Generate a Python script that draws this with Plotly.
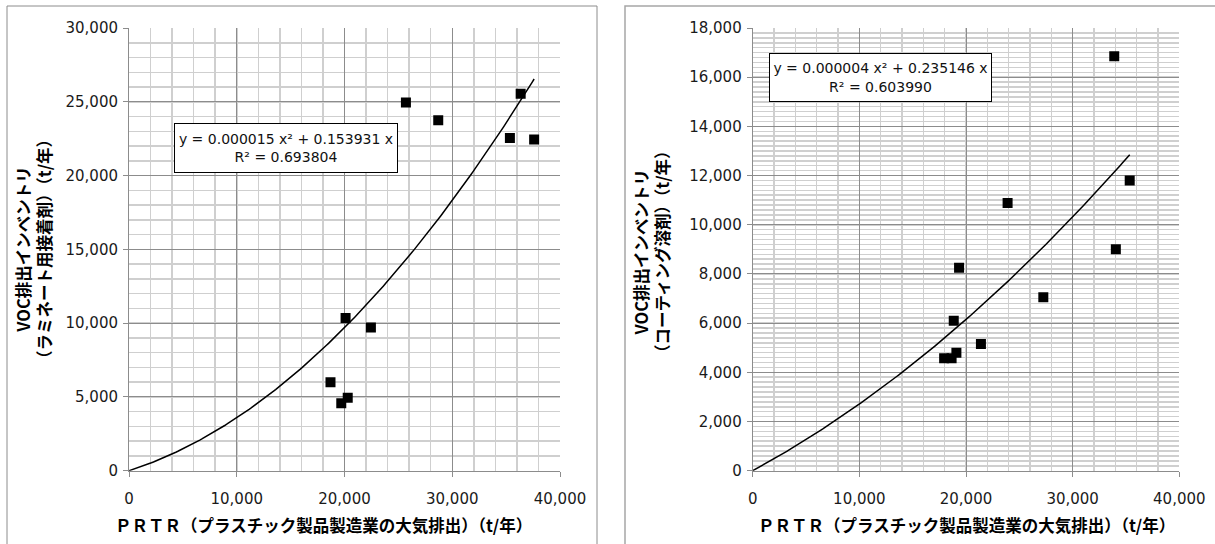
import numpy as np
import plotly.graph_objects as go

W, H = 1215, 544

# ---- data ----
left_x = [25700, 28700, 35350, 37600, 36350, 20100, 22450, 18700, 20300, 19700]
left_y = [24950, 23750, 22550, 22450, 25550, 10350, 9700, 6000, 4950, 4570]

right_x = [33900, 35350, 23900, 34050, 19350, 27250, 18850, 21400, 19100, 17950, 18650]
right_y = [16850, 11800, 10880, 9000, 8250, 7050, 6100, 5150, 4800, 4570, 4570]

left_eq = "y = 0.000015 x² + 0.153931 x<br>R² = 0.693804"
right_eq = "y = 0.000004 x² + 0.235146 x<br>R² = 0.603990"

x_title = "ＰＲＴＲ（プラスチック製品製造業の大気排出）（t/年）"
left_y_title = "VOC排出インベントリ<br>（ラミネート用接着剤）（t/年）"
right_y_title = "VOC排出インベントリ<br>（コーティング溶剤）（t/年）"

x_ticks = [0, 10000, 20000, 30000, 40000]
left_y_ticks = [0, 5000, 10000, 15000, 20000, 25000, 30000]
right_y_ticks = [0, 2000, 4000, 6000, 8000, 10000, 12000, 14000, 16000, 18000]


def trend(xs, ys):
    xs = np.asarray(xs, float)
    ys = np.asarray(ys, float)
    A = np.column_stack([xs ** 2, xs])
    (a, b), *_ = np.linalg.lstsq(A, ys, rcond=None)
    xx = np.linspace(0, xs.max(), 200)
    return xx, a * xx ** 2 + b * xx


def px(x):
    return x / W


def py(y):
    return 1 - y / H


TICK_FONT = dict(family="DejaVu Sans", size=15, color="#1a1a1a")
TITLE_FONT = dict(family="Noto Sans CJK JP", size=16.5, color="#000000")
MAJOR = "#8c8c8c"
MINOR = "#cfcfcf"

fig = go.Figure()

lx, ly = trend(left_x, left_y)
rx, ry = trend(right_x, right_y)

fig.add_trace(go.Scatter(x=lx, y=ly, mode="lines", line=dict(color="black", width=1.5),
                         xaxis="x", yaxis="y", showlegend=False, hoverinfo="skip"))
fig.add_trace(go.Scatter(x=left_x, y=left_y, mode="markers",
                         marker=dict(symbol="square", size=10, color="black"),
                         xaxis="x", yaxis="y", showlegend=False))
fig.add_trace(go.Scatter(x=rx, y=ry, mode="lines", line=dict(color="black", width=1.5),
                         xaxis="x2", yaxis="y2", showlegend=False, hoverinfo="skip"))
fig.add_trace(go.Scatter(x=right_x, y=right_y, mode="markers",
                         marker=dict(symbol="square", size=10, color="black"),
                         xaxis="x2", yaxis="y2", showlegend=False))

y_dom = [py(470.7), py(28)]


def xaxis(dom, anchor):
    return dict(domain=dom, anchor=anchor, range=[0, 40000], tickvals=x_ticks,
                tickformat=",d", tickfont=TICK_FONT, showgrid=True, gridcolor=MAJOR,
                gridwidth=1, minor=dict(dtick=2000, tick0=0, showgrid=True,
                                        gridcolor=MINOR, gridwidth=1.5),
                showline=True, linecolor=MAJOR, linewidth=1, zeroline=False,
                ticks="outside", ticklen=5, tickcolor=MAJOR, ticklabelstandoff=9,
                automargin=False, fixedrange=True)


def yaxis(dom, anchor, rng, vals, minor_dt):
    return dict(domain=dom, anchor=anchor, range=rng, tickvals=vals,
                tickformat=",d", tickfont=TICK_FONT, showgrid=True, gridcolor=MAJOR,
                gridwidth=1, minor=dict(dtick=minor_dt, tick0=0, showgrid=True,
                                        gridcolor=MINOR, gridwidth=1.5),
                showline=True, linecolor=MAJOR, linewidth=1, zeroline=False,
                ticks="outside", ticklen=5, tickcolor=MAJOR, ticklabelstandoff=2,
                automargin=False, fixedrange=True)


fig.update_layout(
    width=W, height=H,
    margin=dict(l=0, r=0, t=0, b=0),
    paper_bgcolor="white", plot_bgcolor="white",
    showlegend=False,
    xaxis=xaxis([px(129), px(560)], "y"),
    yaxis=yaxis(y_dom, "x", [0, 30000], left_y_ticks, 1000),
    xaxis2=xaxis([px(752.7), px(1179.3)], "y2"),
    yaxis2=yaxis(y_dom, "x2", [0, 18000], right_y_ticks, 200),
)

# panel borders
fig.add_shape(type="rect", xref="paper", yref="paper",
              x0=px(7), x1=px(597), y0=py(560), y1=py(6),
              line=dict(color="#8c8c8c", width=1), fillcolor="rgba(0,0,0,0)", layer="below")
fig.add_shape(type="rect", xref="paper", yref="paper",
              x0=px(625), x1=px(1240), y0=py(560), y1=py(6),
              line=dict(color="#a6a6a6", width=1.5), fillcolor="rgba(0,0,0,0)", layer="below")


def bold(t):
    return "<br>".join("<b>" + s + "</b>" for s in t.split("<br>"))


# axis titles
fig.add_annotation(text=bold(x_title), xref="paper", yref="paper", x=px(323.5), y=py(525),
                   showarrow=False, font=TITLE_FONT, xanchor="center", yanchor="middle")
fig.add_annotation(text=bold(x_title), xref="paper", yref="paper", x=px(966), y=py(525),
                   showarrow=False, font=TITLE_FONT, xanchor="center", yanchor="middle")
fig.add_annotation(text=bold(left_y_title), xref="paper", yref="paper", x=px(33), y=py(249),
                   showarrow=False, font=TITLE_FONT, textangle=-90,
                   xanchor="center", yanchor="middle")
fig.add_annotation(text=bold(right_y_title), xref="paper", yref="paper", x=px(651), y=py(252),
                   showarrow=False, font=TITLE_FONT, textangle=-90,
                   xanchor="center", yanchor="middle")

# trendline equation boxes
EQ_FONT = dict(family="DejaVu Sans", size=14, color="#111111")
fig.add_annotation(text=left_eq, xref="paper", yref="paper", x=px(286), y=py(148),
                   showarrow=False, font=EQ_FONT, align="center", width=222, height=48,
                   bordercolor="black", borderwidth=1, borderpad=0, bgcolor="white",
                   xanchor="center", yanchor="middle")
fig.add_annotation(text=right_eq, xref="paper", yref="paper", x=px(880.5), y=py(77.5),
                   showarrow=False, font=EQ_FONT, align="center", width=221, height=47,
                   bordercolor="black", borderwidth=1, borderpad=0, bgcolor="white",
                   xanchor="center", yanchor="middle")

fig.write_html("out.html",
               config={"displayModeBar": False, "staticPlot": True},
               post_script="document.body.style.margin='0';document.body.style.padding='0';")
